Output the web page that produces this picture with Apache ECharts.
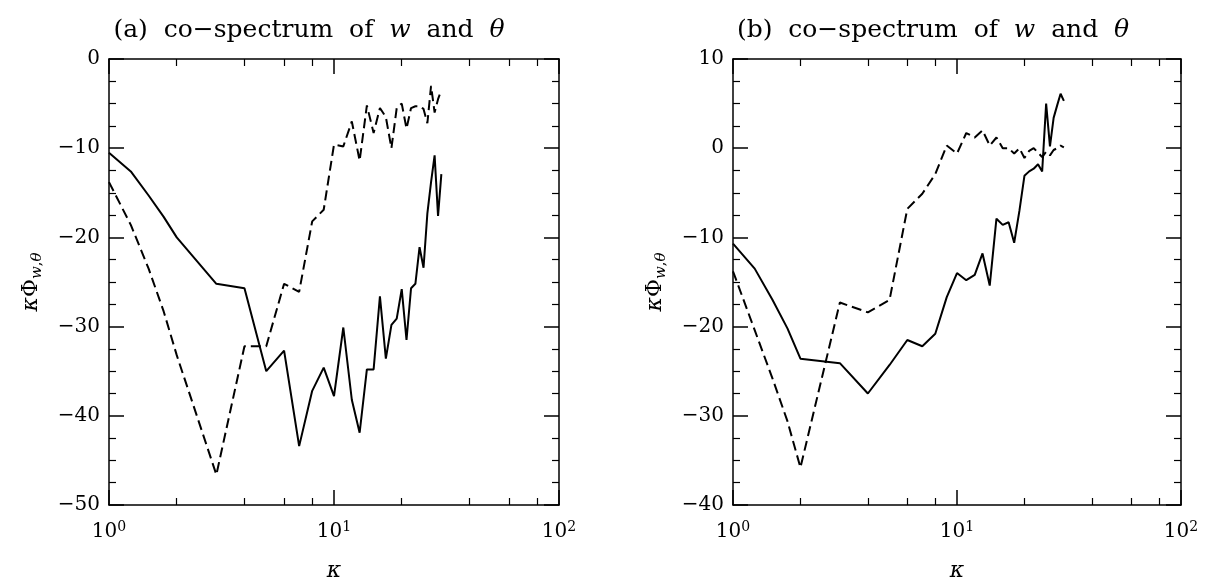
<!DOCTYPE html>
<html><head><meta charset="utf-8">
<script src="https://cdn.jsdelivr.net/npm/echarts@6/dist/echarts.min.js"></script>
<style>html,body{margin:0;padding:0;background:#fff}#c{width:1209px;height:580px}</style>
</head><body><div id="c"></div>
<script>
// ---- data ----
const kappa   = [1,1.25,1.5,1.75,2,3,4,5,6,7,8,9,10,11,12,13,14,15,16,17,18,19,20,21,22,23,24,25,26,27,28,29,30];
const solidA  = [-10.5,-12.6,-15.3,-17.7,-20.0,-25.2,-25.7,-35.0,-32.7,-43.4,-37.2,-34.6,-37.8,-30.1,-38.2,-41.9,-34.8,-34.8,-26.6,-33.6,-29.8,-29.1,-25.8,-31.5,-25.7,-25.2,-21.1,-23.4,-17.3,-13.8,-10.8,-17.6,-12.9];
const dashedA = [-13.8,-18.6,-23.5,-28.3,-33.2,-46.6,-32.2,-32.2,-25.2,-26.1,-18.2,-16.9,-9.6,-9.8,-7.0,-11.4,-5.2,-8.3,-5.5,-6.5,-10.0,-5.5,-5.0,-7.8,-5.5,-5.3,-5.3,-5.6,-7.2,-3.0,-6.0,-4.5,-3.5];
const solidB  = [-10.7,-13.5,-17.0,-20.2,-23.6,-24.1,-27.5,-24.3,-21.5,-22.2,-20.8,-16.7,-14.0,-14.8,-14.2,-11.8,-15.4,-7.9,-8.6,-8.3,-10.6,-7.0,-3.1,-2.6,-2.3,-1.8,-2.6,5.0,0.2,3.4,4.8,6.1,5.3];
const dashedB = [-13.8,-20.4,-25.8,-30.6,-35.8,-17.3,-18.4,-17.0,-6.8,-5.1,-2.9,0.3,-0.6,1.7,1.2,2.0,0.3,1.2,0.0,0.0,-0.6,0.0,-1.1,-0.3,0.0,-0.5,-1.0,-0.4,-0.8,-0.2,0.0,0.3,0.1];

const xMajorTicks    = [1,10,100];
const xTickExponents = ['0','1','2'];
const xMinorTicks    = [2,4,6,8,20,40,60,80];
const yTicksA  = [-50,-40,-30,-20,-10,0];
const yLabelsA = ['−50','−40','−30','−20','−10','0'];
const yTicksB  = [-40,-30,-20,-10,0,10];
const yLabelsB = ['−40','−30','−20','−10','0','10'];
const panelLabels = ['(a)','(b)'];
const titleWords  = ['co−spectrum','of','w','and','θ'];

// ---- layout / style ----
const FONT = 'DejaVu Serif';
const grids = [
  {left:109, top:59, width:450, height:446, outerBoundsMode:'none', containLabel:false},
  {left:733, top:59, width:448, height:446, outerBoundsMode:'none', containLabel:false}
];
const BLACK = '#000';

function pairs(ys){ return kappa.map((k,i)=>[k, ys[i]]); }

function xAxesFor(g){
  const base = {type:'log', logBase:10, min:1, max:100, gridIndex:g, splitLine:{show:false}};
  const major = (pos, withLabel) => Object.assign({}, base, {
    position:pos,
    axisLine:{show:true, onZero:false, lineStyle:{color:BLACK, width:1.5}},
    axisTick:{show:true, inside:true, length:15, customValues:xMajorTicks, lineStyle:{color:BLACK, width:1.5}},
    axisLabel: withLabel ? {
      show:true, customValues:xMajorTicks, margin:15, color:BLACK,
      fontFamily:FONT, fontSize:20, lineHeight:24,
      formatter: v => { const i = xMajorTicks.findIndex(t => Math.abs(t - v) < 1e-6 * t); return '10{sup|' + xTickExponents[i] + '}'; },
      rich:{sup:{fontFamily:FONT, fontSize:14, lineHeight:14, verticalAlign:'top', color:BLACK}}
    } : {show:false},
    name: withLabel ? 'κ' : '',
    nameLocation:'middle', nameGap:55,
    nameTextStyle:{fontFamily:FONT, fontStyle:'italic', fontSize:22, color:BLACK}
  });
  const minor = pos => Object.assign({}, base, {
    position:pos,
    axisLine:{show:false, onZero:false},
    axisTick:{show:true, inside:true, length:7, customValues:xMinorTicks, lineStyle:{color:BLACK, width:1.2}},
    axisLabel:{show:false}
  });
  return [major('bottom', true), minor('bottom'), major('top', false), minor('top')];
}

function yAxesFor(g, ticks, labels){
  const base = {
    type:'value', gridIndex:g, min:ticks[0], max:ticks[ticks.length-1], interval:10,
    splitLine:{show:false},
    axisLine:{show:true, onZero:false, lineStyle:{color:BLACK, width:1.5}},
    axisTick:{show:true, inside:true, length:15, lineStyle:{color:BLACK, width:1.5}},
    minorTick:{show:true, splitNumber:4, length:7, lineStyle:{color:BLACK, width:1.2}}
  };
  const left = Object.assign({}, base, {
    position:'left',
    axisLabel:{show:true, margin:9, color:BLACK, fontFamily:FONT, fontSize:20,
      formatter: v => labels[ticks.indexOf(v)]},
    name:'{i|κ}{n|Φ}{si|w}{sn|,}{si|θ}',
    nameLocation:'middle', nameGap:64, nameRotate:90,
    nameTextStyle:{
      color:BLACK, fontFamily:FONT, fontSize:22, lineHeight:28,
      rich:{
        i:{fontFamily:FONT, fontStyle:'italic', fontSize:22, lineHeight:28, color:BLACK},
        n:{fontFamily:FONT, fontSize:22, lineHeight:28, color:BLACK},
        si:{fontFamily:FONT, fontStyle:'italic', fontSize:15, lineHeight:15, verticalAlign:'bottom', color:BLACK},
        sn:{fontFamily:FONT, fontSize:15, lineHeight:15, verticalAlign:'bottom', color:BLACK}
      }
    }
  });
  const right = Object.assign({}, base, {position:'right', axisLabel:{show:false}});
  return [left, right];
}

const titleCenters = [304, 928];
const titleOpts = panelLabels.map((p, g) => ({
  text: p + '  ' + titleWords.map(w => (w === 'w' || w === 'θ') ? '{i|' + w + '}' : w).join('  '),
  left: titleCenters[g], top: 13, textAlign:'center',
  textStyle:{fontFamily:FONT, fontSize:25, fontWeight:'normal', color:BLACK,
    rich:{i:{fontFamily:FONT, fontStyle:'italic', fontSize:25, color:BLACK}}}
}));

const lineSeries = (data, xi, yi, dashed) => ({
  type:'line', data: pairs(data), xAxisIndex:xi, yAxisIndex:yi,
  symbol:'none', animation:false, clip:true,
  lineStyle:{color:BLACK, width:2, type: dashed ? [10,5] : 'solid'}
});

const option = {
  backgroundColor:'#fff',
  animation:false,
  title: titleOpts,
  grid: grids,
  xAxis: [...xAxesFor(0), ...xAxesFor(1)],
  yAxis: [...yAxesFor(0, yTicksA, yLabelsA), ...yAxesFor(1, yTicksB, yLabelsB)],
  series: [
    lineSeries(solidA, 0, 0, false),
    lineSeries(dashedA, 0, 0, true),
    lineSeries(solidB, 4, 2, false),
    lineSeries(dashedB, 4, 2, true)
  ]
};

const chart = echarts.init(document.getElementById('c'), null, {renderer:'canvas'});
chart.setOption(option);
</script>
</body></html>
